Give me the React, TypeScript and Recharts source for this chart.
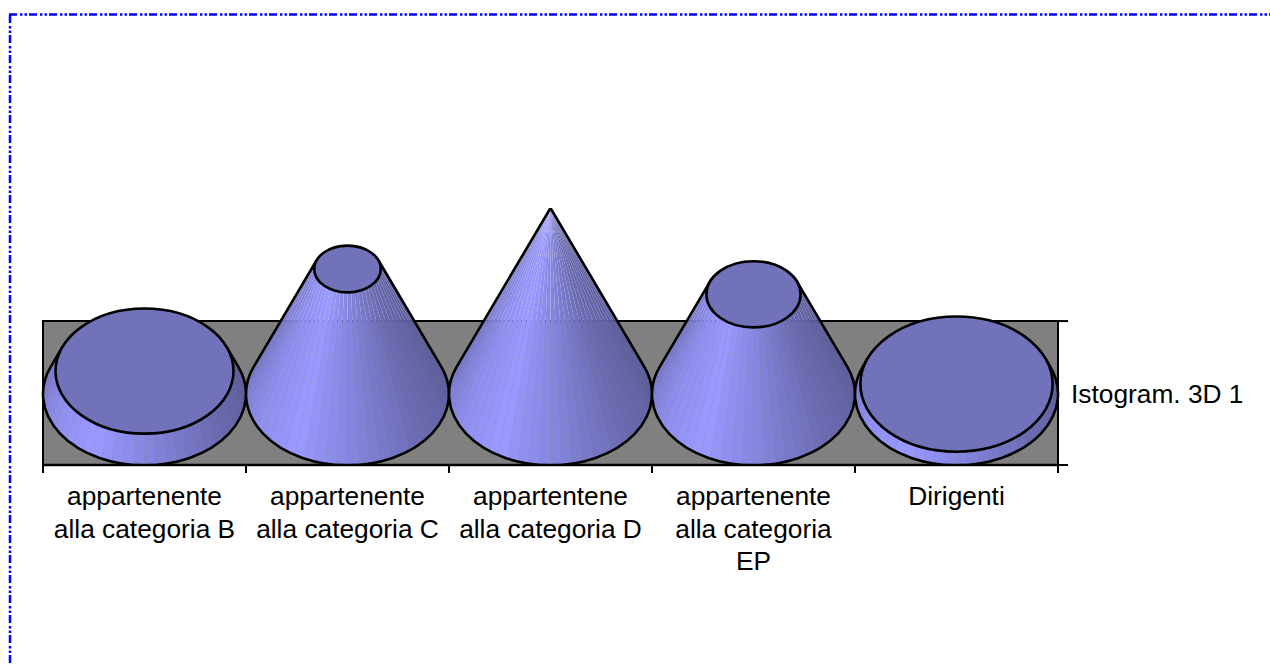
import React from 'react';
import { ComposedChart, Bar, XAxis, YAxis, ReferenceArea, Legend } from 'recharts';

const categories = ['B', 'C', 'D', 'EP', 'Dirigenti'];
const categoryLines = [
  ['appartenente', 'alla categoria B'],
  ['appartenente', 'alla categoria C'],
  ['appartentene', 'alla categoria D'],
  ['appartenente', 'alla categoria', 'EP'],
  ['Dirigenti'],
];
const seriesName = 'Istogram. 3D 1';
const seriesValues = [12.3, 67.2, 100, 53.6, 5.3];
const wallBottom = -38.2;
const wallTop = 39.2;
const edgeTicks = [0, 1, 2, 3, 4, 5];

const rows = categories.map((c, i) => ({ category: c, value: seriesValues[i], edge: edgeTicks[i] }));

const FONT = '"Liberation Sans", Arial, sans-serif';
const FONT_SIZE = 26.3;
const ASPECT = 0.703;
const TOP_FILL = '#7272BB';
const shadeStops: [number, number][] = [
  [-25, 0.58], [0, 0.62], [45, 0.7], [90, 0.88], [120, 1], [150, 0.94], [180, 0.82], [205, 0.74],
];

function shade(deg: number) {
  let k = shadeStops[shadeStops.length - 1][1];
  for (let i = 0; i < shadeStops.length - 1; i++) {
    const [a, ka] = shadeStops[i];
    const [b, kb] = shadeStops[i + 1];
    if (deg >= a && deg <= b) {
      k = ka + ((kb - ka) * (deg - a)) / (b - a);
      break;
    }
  }
  return `rgb(${Math.round(153 * k)},${Math.round(153 * k)},${Math.round(255 * k)})`;
}

function ConeShape(props: any) {
  const { x, y, width, height, value } = props;
  const v = Array.isArray(value) ? value[1] - value[0] : value;
  const R = width / 2;
  const cx = x + R;
  const baseY = y + height;
  const topY = y;
  const RY = R * ASPECT;
  const r = R * (1 - v / 100);
  const ry = r * ASPECT;
  const fullH = height / (v / 100);
  const alpha = Math.asin(RY / fullH);
  const start = -alpha;
  const end = Math.PI + alpha;
  const N = 36;
  const facets = [];
  const pt = (a: number, rad: number, radY: number, oy: number) => [cx + rad * Math.cos(a), oy + radY * Math.sin(a)];
  for (let i = 0; i < N; i++) {
    const a0 = start + ((end - start) * i) / N;
    const a1 = start + ((end - start) * (i + 1)) / N;
    const pts = [pt(a0, R, RY, baseY), pt(a1, R, RY, baseY), pt(a1, r, ry, topY), pt(a0, r, ry, topY)];
    const mid = (((a0 + a1) / 2) * 180) / Math.PI;
    facets.push(
      <polygon key={i} points={pts.map((p) => p.join(',')).join(' ')} fill={shade(mid)} stroke="none" />,
    );
  }
  const bl = pt(end, R, RY, baseY);
  const br = pt(start, R, RY, baseY);
  const tl = pt(end, r, ry, topY);
  const tr = pt(start, r, ry, topY);
  const outline = `M${tr[0]},${tr[1]} L${br[0]},${br[1]} A${R},${RY} 0 1 1 ${bl[0]},${bl[1]} L${tl[0]},${tl[1]}`;
  return (
    <g>
      {facets}
      <path d={outline} fill="none" stroke="#000" strokeWidth={2.6} strokeLinejoin="round" />
      {r > 0.5 && <ellipse cx={cx} cy={topY} rx={r} ry={ry} fill={TOP_FILL} stroke="#000" strokeWidth={2.6} />}
    </g>
  );
}

function CategoryTick(props: any) {
  const { x, index } = props;
  const lines = categoryLines[index] || [];
  return (
    <text x={x} textAnchor="middle" fontFamily={FONT} fontSize={FONT_SIZE} fill="#000">
      {lines.map((l, i) => (
        <tspan key={i} x={x} y={505 + i * 32.5}>
          {l}
        </tspan>
      ))}
    </text>
  );
}

function LegendBox() {
  return <div style={{ fontFamily: FONT, fontSize: FONT_SIZE, color: '#000', whiteSpace: 'nowrap', lineHeight: '30px' }}>{seriesName}</div>;
}

const hiddenLabel = () => '';

export default function App() {
  return (
    <div style={{ position: 'absolute', left: 0, top: 0, width: 1270, height: 666, overflow: 'hidden', background: '#fff' }}>
      <svg width={1270} height={666} style={{ position: 'absolute', left: 0, top: 0 }}>
        <line x1={9} y1={14.5} x2={1270} y2={14.5} stroke="#0000ff" strokeWidth={2.5} strokeDasharray="8 3 2.5 2 2.5 2" />
        <line x1={10} y1={15} x2={10} y2={666} stroke="#0000ff" strokeWidth={2.5} strokeDasharray="8 3 2.5 2 2.5 2" />
      </svg>
      <div style={{ position: 'absolute', left: 0, top: 0 }}>
        <ComposedChart
          width={1270}
          height={666}
          data={rows}
          barCategoryGap={0}
          margin={{ top: 208, right: 12, bottom: 100, left: 43 }}
        >
          <XAxis
            type="number"
            dataKey="edge"
            domain={[0, 5]}
            ticks={edgeTicks}
            tickFormatter={hiddenLabel}
            tickSize={8}
            height={1}
            axisLine={{ stroke: '#000', strokeWidth: 2.5 }}
            tickLine={{ stroke: '#000', strokeWidth: 2 }}
            allowDataOverflow
          />
          <XAxis xAxisId="labels" dataKey="category" interval={0} axisLine={false} tickLine={false} height={100} tick={<CategoryTick />} />
          <YAxis
            orientation="right"
            width={10}
            domain={[wallBottom, 100]}
            ticks={[wallBottom, wallTop]}
            tickFormatter={hiddenLabel}
            tickSize={10}
            axisLine={false}
            tickLine={{ stroke: '#000', strokeWidth: 2 }}
            allowDataOverflow
          />
          <Legend
            layout="vertical"
            align="right"
            verticalAlign="middle"
            width={190}
            content={<LegendBox />}
            wrapperStyle={{ left: 1071, top: 379, right: 'auto', width: 190, height: 30 }}
          />
          <ReferenceArea y1={wallBottom} y2={wallTop} fill="#808080" fillOpacity={1} stroke="#000" strokeWidth={2} />
          <Bar xAxisId="labels" dataKey="value" name={seriesName} isAnimationActive={false} shape={<ConeShape />} />
        </ComposedChart>
      </div>
    </div>
  );
}
